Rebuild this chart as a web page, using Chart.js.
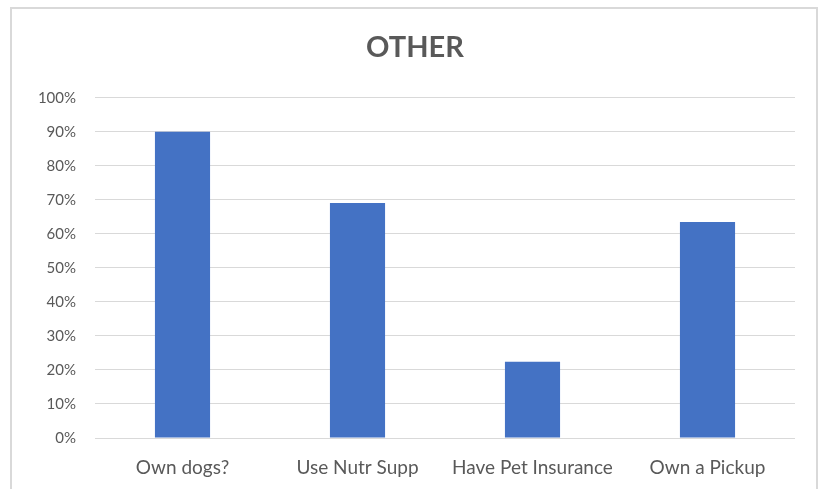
<!DOCTYPE html>
<html>
<head>
<meta charset="utf-8">
<script src="https://cdn.jsdelivr.net/npm/chart.js@4"></script>
<style>
  html, body { margin: 0; padding: 0; background: #fff; }
  #wrap { position: relative; width: 825px; height: 489px; }
  #frame { position: absolute; left: 10px; top: 7px; width: 808px; height: 500px;
           border: 2px solid #d9d9d9; box-sizing: border-box; pointer-events: none; }
</style>
</head>
<body>
<div id="wrap">
  <canvas id="barChart" width="825" height="489"></canvas>
  <div id="frame"></div>
</div>
<script>
// categories and values (percent)
const categories = ['Own dogs?', 'Use Nutr Supp', 'Have Pet Insurance', 'Own a Pickup'];
const values = [90, 69.1, 22.4, 63.5];
const yTicks = [0, 10, 20, 30, 40, 50, 60, 70, 80, 90, 100];

const textColor = '#595959';
const gridColor = '#d9d9d9';

//data
const data = {
    labels: categories,
    datasets: [{
        label: 'OTHER',
        backgroundColor: '#4472c4',
        data: values,
        barPercentage: 0.63,
        categoryPercentage: 0.5
    }]
};

//config
const config = {
    type: 'bar',
    data: data,
    options: {
        responsive: false,
        animation: false,
        layout: { padding: { left: 35, right: 30, top: 0, bottom: 0 } },
        plugins: {
            legend: { display: false },
            tooltip: { enabled: false },
            title: {
                display: true,
                text: 'OTHER',
                color: textColor,
                font: { family: 'Lato', size: 29, weight: 'bold' },
                padding: { top: 30, bottom: 33 }
            }
        },
        scales: {
            x: {
                grid: { display: false },
                border: { display: false },
                ticks: { color: textColor, font: { family: 'Lato', size: 19 }, padding: 10, maxRotation: 0 },
                afterFit: (s) => { s.height = 51; }
            },
            y: {
                min: 0,
                max: 100,
                afterBuildTicks: (s) => { s.ticks = yTicks.map(v => ({ value: v })); },
                grid: { color: gridColor, lineWidth: 1, drawTicks: false },
                border: { display: false },
                ticks: {
                    color: textColor,
                    font: { family: 'Lato', size: 15 },
                    padding: 19,
                    callback: (v) => v + '%'
                },
                afterFit: (s) => { s.width = 60; }
            }
        }
    }
};

//rendering
const myChart = new Chart(document.getElementById('barChart'), config);
</script>
</body>
</html>
